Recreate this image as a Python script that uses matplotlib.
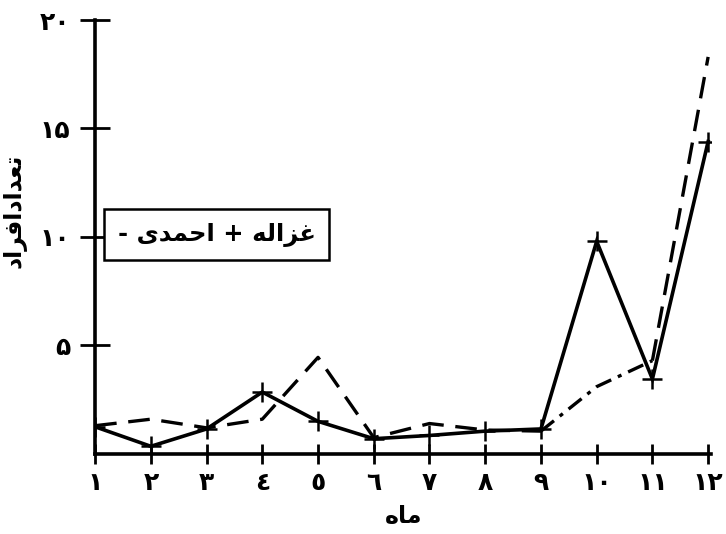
import matplotlib
matplotlib.use("Agg")
import matplotlib.pyplot as plt

# data
months = list(range(1, 13))
month_labels = ["١", "٢", "٣", "٤", "٥", "٦", "٧", "٨", "٩", "١٠", "١١", "١٢"]
ghazaleh = [1.25, 0.35, 1.15, 2.85, 1.5, 0.7, 0.85, 1.05, 1.15, 9.8, 3.45, 14.4]
ahmadi = [1.3, 1.6, 1.2, 1.6, 4.45, 0.75, 1.4, 1.1, 1.05, 3.1, 4.3, 18.3]
y_ticks = [5, 10, 15, 20]
y_tick_labels = ["۵", "۱۰", "۱۵", "۲۰"]
legend_text = "غزاله + احمدی -"
x_title = "ماه"
y_title = "تعدادافراد"

# matplotlib does no arabic shaping, so map letters to their contextual forms
# (isolated, final, initial, medial)
FORMS = {
    "ا": ("\uFE8D", "\uFE8E", None, None),
    "د": ("\uFEA9", "\uFEAA", None, None),
    "ر": ("\uFEAD", "\uFEAE", None, None),
    "ز": ("\uFEAF", "\uFEB0", None, None),
    "ح": ("\uFEA1", "\uFEA2", "\uFEA3", "\uFEA4"),
    "م": ("\uFEE1", "\uFEE2", "\uFEE3", "\uFEE4"),
    "ی": ("\uFBFC", "\uFBFD", "\uFBFE", "\uFBFF"),
    "غ": ("\uFECD", "\uFECE", "\uFECF", "\uFED0"),
    "ل": ("\uFEDD", "\uFEDE", "\uFEDF", "\uFEE0"),
    "ه": ("\uFEE9", "\uFEEA", "\uFEEB", "\uFEEC"),
    "ت": ("\uFE95", "\uFE96", "\uFE97", "\uFE98"),
    "ع": ("\uFEC9", "\uFECA", "\uFECB", "\uFECC"),
    "ف": ("\uFED1", "\uFED2", "\uFED3", "\uFED4"),
}


def rtl(text):
    out = []
    for i, ch in enumerate(text):
        if ch not in FORMS:
            out.append(ch)
            continue
        prev = text[i - 1] if i > 0 else ""
        nxt = text[i + 1] if i + 1 < len(text) else ""
        join_prev = prev in FORMS and FORMS[prev][2] is not None
        join_next = FORMS[ch][2] is not None and nxt in FORMS
        iso, fin, ini, med = FORMS[ch]
        if join_prev and join_next:
            out.append(med)
        elif join_prev:
            out.append(fin)
        elif join_next:
            out.append(ini)
        else:
            out.append(iso)
    return "".join(reversed(out))


plt.rcParams["font.family"] = ["DejaVu Sans"]
plt.rcParams["font.weight"] = "bold"

fig = plt.figure(figsize=(7.26, 5.34), dpi=100)
ax = fig.add_axes([0.131, 0.15, 0.849, 0.8125])

ax.plot(months, ghazaleh, color="black", lw=2.6, marker="+", ms=15, mew=1.8,
        solid_joinstyle="miter")
ax.plot(months[:9], ahmadi[:9], color="black", lw=2.4, dashes=(6.5, 3.5))
ax.plot(months[8:11], ahmadi[8:11], color="black", lw=2.4, dashes=(5, 2.2, 1.2, 2.2))
ax.plot(months[10:], ahmadi[10:], color="black", lw=2.4, dashes=(6.5, 3.5))

ax.set_xlim(1, 12.06)
ax.set_ylim(0, 20)
ax.set_xticks(months)
ax.set_xticklabels(month_labels, fontsize=18, fontweight="bold")
ax.set_yticks(y_ticks)
ax.set_yticklabels(y_tick_labels, fontsize=18, fontweight="bold")
ax.tick_params(axis="y", direction="inout", length=22, width=2, pad=7)
ax.tick_params(axis="x", direction="inout", length=14, width=2, pad=5)

for side in ["top", "right"]:
    ax.spines[side].set_visible(False)
for side in ["left", "bottom"]:
    ax.spines[side].set_linewidth(2.6)

ax.set_xlabel(rtl(x_title), fontsize=17, fontweight="bold")
ax.xaxis.set_label_coords(0.5, -0.115)
ax.set_ylabel(rtl(y_title), fontsize=17, fontweight="bold")
ax.yaxis.set_label_coords(-0.112, 0.56)

ax.text(0.197, 0.505, rtl(legend_text), transform=ax.transAxes,
        ha="center", va="center", fontsize=17.5, fontweight="bold",
        bbox=dict(boxstyle="square,pad=0.55", fc="white", ec="black", lw=1.8))

fig.savefig("out.png", dpi=100)
